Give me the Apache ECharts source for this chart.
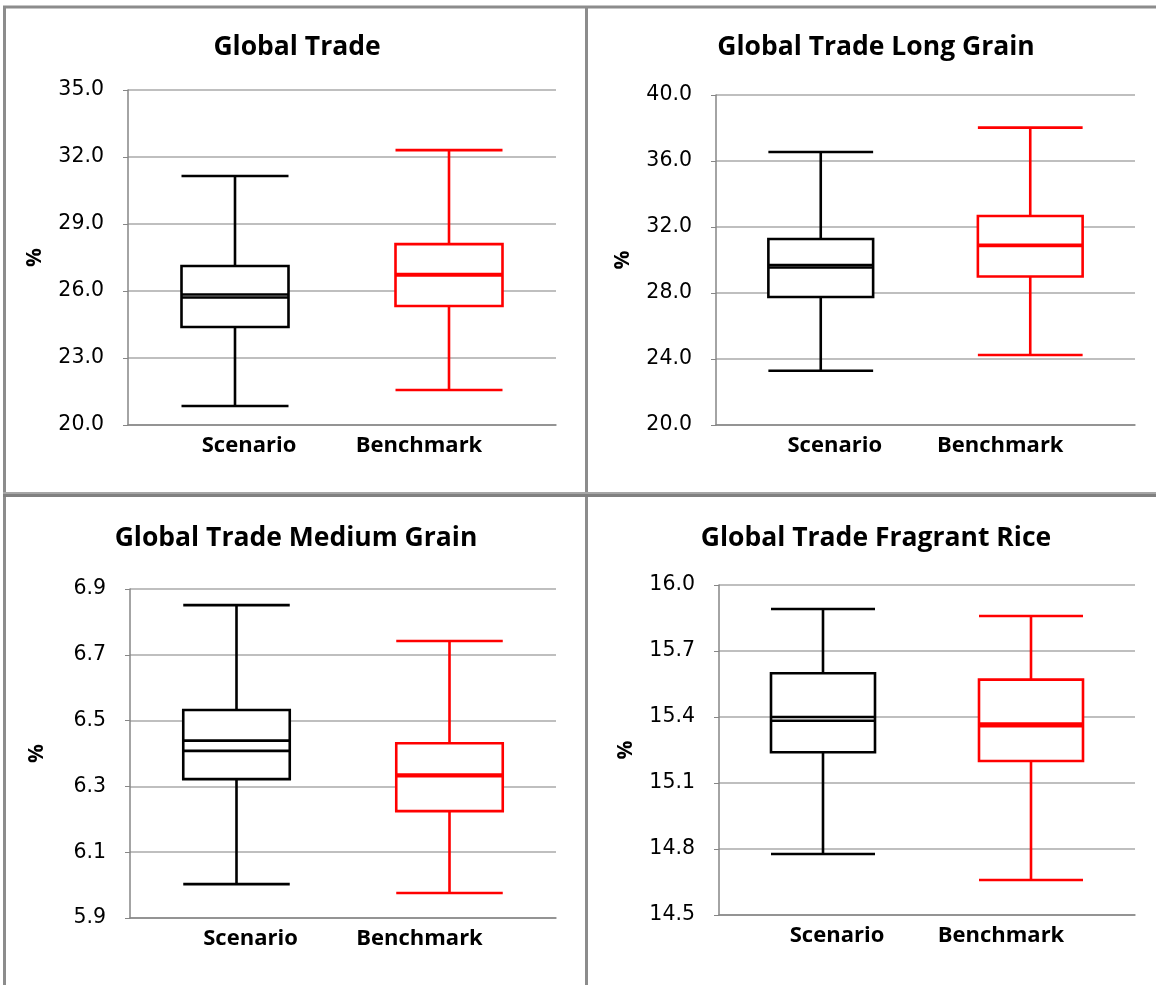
<!DOCTYPE html>
<html>
<head>
<meta charset="utf-8">
<title>Global Trade box plots</title>
<script src="https://cdn.jsdelivr.net/npm/echarts@6/dist/echarts.min.js"></script>
<style>
  html, body { margin: 0; padding: 0; background: #ffffff; }
  #chart { width: 1156px; height: 985px; }
</style>
</head>
<body>
<div id="chart"></div>
<script>
// Categories shared by every panel
const categories = ['Scenario', 'Benchmark'];

// Panel titles
const panelTitles = [
  'Global Trade',
  'Global Trade Long Grain',
  'Global Trade Medium Grain',
  'Global Trade Fragrant Rice'
];

// Box values per panel: [min, Q1, median, Q3, max]
const tradeScenario = [20.85, 24.39, 25.71, 27.12, 31.15];
const tradeBenchmark = [21.57, 25.33, 26.70, 28.10, 32.31];
const longScenario = [23.29, 27.76, 29.55, 31.27, 36.55];
const longBenchmark = [24.24, 29.00, 30.85, 32.67, 38.02];
const mediumScenario = [6.003, 6.322, 6.408, 6.532, 6.851];
const mediumBenchmark = [5.976, 6.225, 6.331, 6.431, 6.742];
const fragrantScenario = [14.777, 15.240, 15.383, 15.599, 15.891];
const fragrantBenchmark = [14.659, 15.200, 15.358, 15.570, 15.859];

// Means drawn as a second line inside each box: [scenario, benchmark]
const tradeMeans = [25.84, 26.76];
const longMeans = [29.70, 30.92];
const mediumMeans = [6.439, 6.336];
const fragrantMeans = [15.400, 15.370];

// Value axis ranges: [min, max, interval]
const tradeAxis = [20, 35, 3];
const longAxis = [20, 40, 4];
const mediumAxis = [5.9, 6.9, 0.2];
const fragrantAxis = [14.5, 16.0, 0.3];

const seriesColors = ['#000000', '#ff0000'];

const panels = [
  { boxes: [tradeScenario, tradeBenchmark], means: tradeMeans, axis: tradeAxis,
    grid: { left: 128, top: 90, width: 428, height: 335 }, titleX: 297, titleY: 47 },
  { boxes: [longScenario, longBenchmark], means: longMeans, axis: longAxis,
    grid: { left: 716, top: 95, width: 419, height: 330 }, titleX: 876, titleY: 47 },
  { boxes: [mediumScenario, mediumBenchmark], means: mediumMeans, axis: mediumAxis,
    grid: { left: 130, top: 589, width: 426, height: 329 }, titleX: 296, titleY: 538 },
  { boxes: [fragrantScenario, fragrantBenchmark], means: fragrantMeans, axis: fragrantAxis,
    grid: { left: 719, top: 585, width: 416, height: 330 }, titleX: 876, titleY: 538 }
];

const titleFont = '"Open Sans", "DejaVu Sans", sans-serif';
const tickFont = '"DejaVu Sans", "Open Sans", sans-serif';

const grids = [], xAxes = [], yAxes = [], series = [], graphics = [];

panels.forEach(function (p, i) {
  grids.push(Object.assign({ containLabel: false }, p.grid));

  xAxes.push({
    type: 'category',
    gridIndex: i,
    data: categories,
    axisLine: { lineStyle: { color: '#868686', width: 1.5 } },
    axisTick: { show: false },
    splitLine: { show: false },
    axisLabel: {
      margin: 10,
      formatter: function (v, idx) { return idx === 0 ? '{a|' + v + '}' : '{b|' + v + '}'; },
      rich: {
        a: { fontFamily: titleFont, fontWeight: 'bold', fontSize: 22, color: '#000', padding: [0, 0, 0, 28] },
        b: { fontFamily: titleFont, fontWeight: 'bold', fontSize: 22, color: '#000', padding: [0, 60, 0, 0] }
      }
    }
  });

  yAxes.push({
    type: 'value',
    gridIndex: i,
    min: p.axis[0],
    max: p.axis[1],
    interval: p.axis[2],
    name: '%',
    nameLocation: 'middle',
    nameRotate: 90,
    nameGap: 82,
    nameTextStyle: { fontFamily: titleFont, fontWeight: 'bold', fontSize: 21, color: '#000' },
    axisLine: { show: true, lineStyle: { color: '#868686', width: 1.5 } },
    axisTick: { show: true, length: 5, lineStyle: { color: '#868686' } },
    splitLine: { show: true, lineStyle: { color: '#bfbfbf', width: 2 } },
    axisLabel: {
      margin: 24,
      fontFamily: tickFont,
      fontSize: 20.5,
      color: '#000',
      formatter: function (v) { return v.toFixed(1); }
    }
  });

  series.push({
    type: 'boxplot',
    xAxisIndex: i,
    yAxisIndex: i,
    boxWidth: ['50%', '50%'],
    silent: true,
    data: p.boxes.map(function (b, k) {
      return {
        value: b,
        itemStyle: { color: '#ffffff', borderColor: seriesColors[k], borderWidth: 2.6 }
      };
    })
  });

  series.push({
    type: 'custom',
    xAxisIndex: i,
    yAxisIndex: i,
    silent: true,
    data: p.means.map(function (m, k) { return [k, m]; }),
    renderItem: function (params, api) {
      const pt = api.coord([api.value(0), api.value(1)]);
      const half = api.size([1, 0])[0] * 0.25;
      return {
        type: 'line',
        shape: { x1: pt[0] - half, y1: pt[1], x2: pt[0] + half, y2: pt[1] },
        style: { stroke: seriesColors[params.dataIndex], lineWidth: 2.6 }
      };
    },
    z: 5
  });

  graphics.push({
    type: 'text',
    x: p.titleX,
    y: p.titleY,
    style: {
      text: panelTitles[i],
      font: 'bold 26.5px ' + titleFont,
      fill: '#000',
      align: 'center',
      verticalAlign: 'middle'
    }
  });
});

// Panel frame lines
const frameStyle = { stroke: '#8c8c8c', lineWidth: 3 };
graphics.push(
  { type: 'line', shape: { x1: 3, y1: 7, x2: 1156, y2: 7 }, style: frameStyle },
  { type: 'line', shape: { x1: 4.5, y1: 7, x2: 4.5, y2: 985 }, style: frameStyle },
  { type: 'line', shape: { x1: 586.5, y1: 7, x2: 586.5, y2: 985 }, style: frameStyle },
  { type: 'line', shape: { x1: 3, y1: 493, x2: 1156, y2: 493 }, style: { stroke: '#a6a6a6', lineWidth: 2 } },
  { type: 'line', shape: { x1: 3, y1: 495.5, x2: 1156, y2: 495.5 }, style: { stroke: '#808080', lineWidth: 3 } }
);

const chart = echarts.init(document.getElementById('chart'), null, { renderer: 'canvas' });
chart.setOption({
  animation: false,
  backgroundColor: '#ffffff',
  grid: grids,
  xAxis: xAxes,
  yAxis: yAxes,
  series: series,
  graphic: graphics
});
</script>
</body>
</html>
